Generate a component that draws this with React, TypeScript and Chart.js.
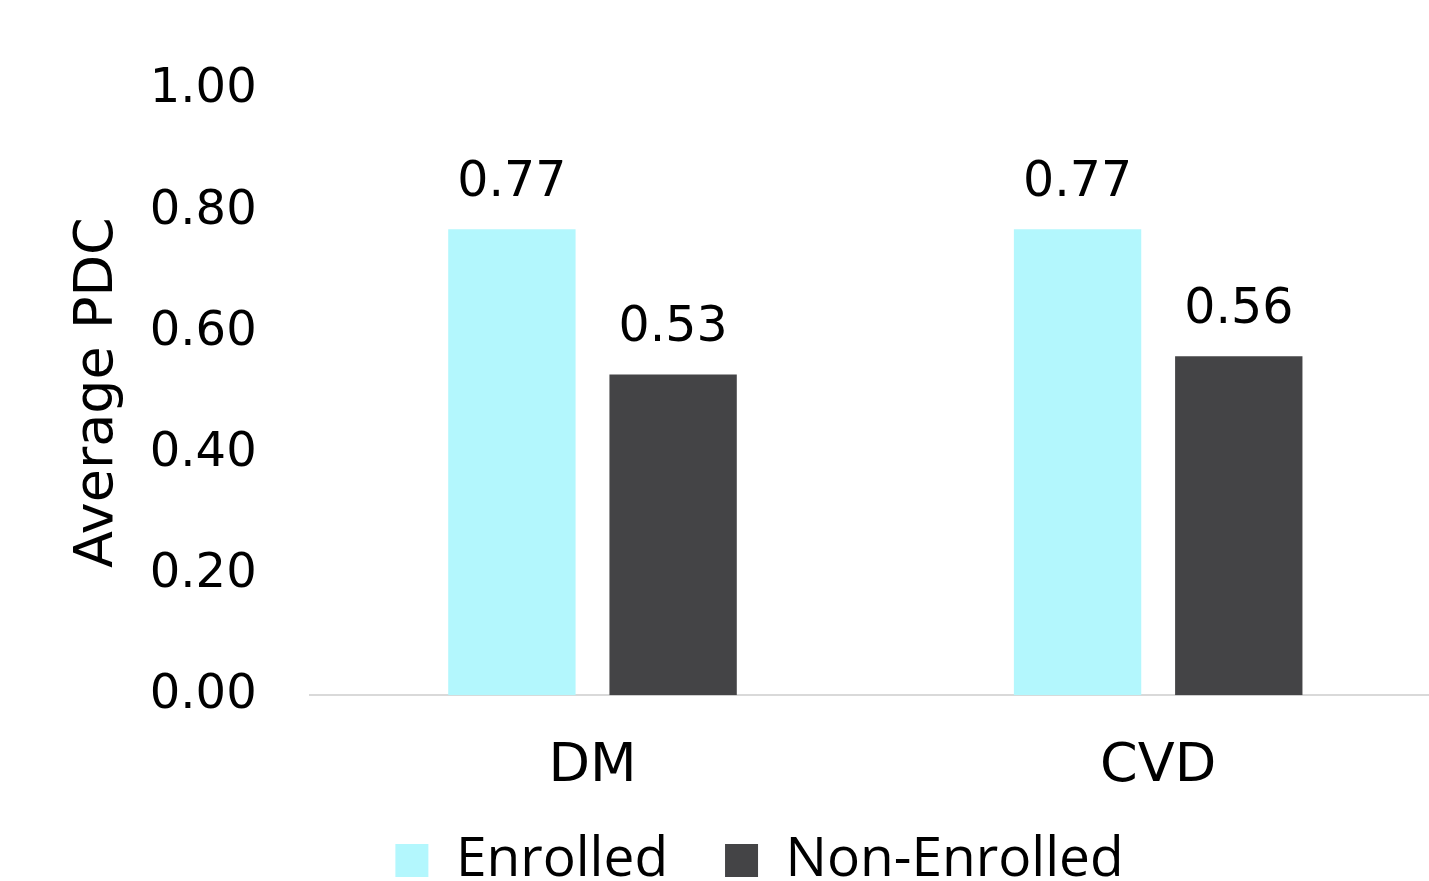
import React, { useEffect, useRef } from "react";
import { Chart, registerables } from "chart.js";

Chart.register(...registerables);

const categories = ["DM", "CVD"];
const seriesNames = ["Enrolled", "Non-Enrolled"];
const enrolledValues = [0.77, 0.77];
const nonEnrolledValues = [0.53, 0.56];
const seriesColors = ["#B3F7FD", "#444446"];
const yTickValues = [0, 0.2, 0.4, 0.6, 0.8, 1.0];

const TICK_FONT = "'DejaVu Sans', sans-serif";
const LEGEND_FONT = "'Open Sans', sans-serif";

const LEGEND_DX = 6;
const LEGEND_TOP = 776;

const dataLabelPlugin = {
  id: "dataLabels",
  afterDatasetsDraw(chart: any) {
    const ctx = chart.ctx;
    ctx.save();
    ctx.font = `49px ${TICK_FONT}`;
    ctx.fillStyle = "#000000";
    ctx.textAlign = "center";
    ctx.textBaseline = "alphabetic";
    chart.data.datasets.forEach((ds: any, i: number) => {
      const meta = chart.getDatasetMeta(i);
      meta.data.forEach((el: any, j: number) => {
        ctx.fillText(Number(ds.data[j]).toFixed(2), el.x, el.y - 33);
      });
    });
    ctx.restore();
  },
};

const legendPlacePlugin = {
  id: "legendPlace",
  afterLayout(chart: any) {
    const lg = chart.legend;
    if (lg) {
      const h = lg.bottom - lg.top;
      lg.left += LEGEND_DX;
      lg.right += LEGEND_DX;
      lg.top = LEGEND_TOP;
      lg.bottom = LEGEND_TOP + h;
    }
  },
};

const CANVAS_W = 1441;
const CANVAS_H = 960;

export default function App() {
  const ref = useRef<HTMLCanvasElement | null>(null);
  useEffect(() => {
    if (!ref.current) return;
    const chart = new Chart(ref.current, {
      type: "bar",
      data: {
        labels: categories,
        datasets: [
          {
            label: seriesNames[0],
            data: enrolledValues,
            backgroundColor: seriesColors[0],
            categoryPercentage: 0.57,
            barPercentage: 0.79,
          },
          {
            label: seriesNames[1],
            data: nonEnrolledValues,
            backgroundColor: seriesColors[1],
            categoryPercentage: 0.57,
            barPercentage: 0.79,
          },
        ],
      },
      options: {
        animation: false,
        responsive: false,
        maintainAspectRatio: false,
        layout: { padding: { left: 66, right: 0, top: 90, bottom: 0 } },
        plugins: {
          legend: {
            position: "bottom",
            labels: {
              boxWidth: 33,
              boxHeight: 33,
              padding: 57,
              color: "#000000",
              font: { family: LEGEND_FONT, size: 55 },
            },
          },
          tooltip: { enabled: false },
        },
        scales: {
          x: {
            grid: { display: false, drawTicks: false },
            border: { display: true, color: "#d9d9d9", width: 2 },
            ticks: {
              color: "#000000",
              padding: 39,
              font: { family: TICK_FONT, size: 54 },
            },
          },
          y: {
            min: 0,
            max: 1,
            afterBuildTicks(scale: any) {
              scale.ticks = yTickValues.map((v) => ({ value: v }));
            },
            grid: { display: false, drawTicks: false },
            border: { display: false },
            ticks: {
              color: "#000000",
              padding: 53,
              font: { family: TICK_FONT, size: 48 },
              callback: (v: any) => Number(v).toFixed(2),
            },
            title: {
              display: true,
              text: "Average PDC",
              color: "#000000",
              padding: { top: 0, bottom: -34 },
              font: { family: TICK_FONT, size: 54, weight: "normal" },
            },
          },
        },
      },
      plugins: [dataLabelPlugin, legendPlacePlugin],
    });
    return () => chart.destroy();
  }, []);
  return (
    <div style={{ position: "fixed", left: 0, top: 0, width: 1429, height: 881, overflow: "hidden", background: "#ffffff" }}>
      <canvas ref={ref} width={CANVAS_W} height={CANVAS_H} style={{ width: CANVAS_W, height: CANVAS_H, display: "block" }} />
    </div>
  );
}
